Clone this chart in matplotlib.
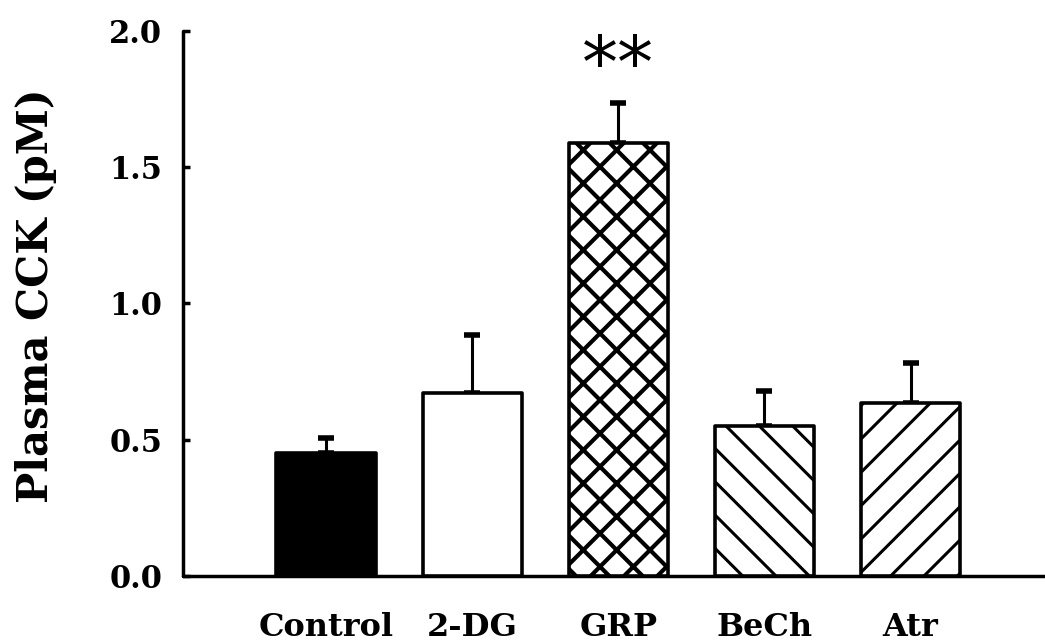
import matplotlib
matplotlib.use("Agg")
import matplotlib.pyplot as plt
import numpy as np

# group names, mean plasma CCK (pM) and upper SEM
groups = ['Control', '2-DG', 'GRP', 'BeCh', 'Atr']
means = [0.45, 0.67, 1.59, 0.55, 0.635]
sem = [0.055, 0.215, 0.145, 0.13, 0.145]
fills = ['black', 'white', 'white', 'white', 'white']
hatches = ['', '', 'xx', '\\\\', '//']
yticks = [0.0, 0.5, 1.0, 1.5, 2.0]
star_group = 'GRP'

plt.rcParams['font.family'] = 'DejaVu Serif'
plt.rcParams['font.weight'] = 'bold'
plt.rcParams['hatch.color'] = 'black'
plt.rcParams['hatch.linewidth'] = 1.1

DPI = 200
fig = plt.figure(figsize=(1045 / DPI, 643 / DPI), dpi=DPI)
ax = fig.add_axes([0.175, 0.104, 0.825, 0.848])

x = np.arange(len(groups))
bars = ax.bar(x, means, width=0.68, color=fills, edgecolor='black',
              linewidth=1.3, joinstyle='round', zorder=3)
for b, h in zip(bars, hatches):
    b.set_hatch(h)
# cross-hatched bar uses heavier lines
try:
    bars[groups.index(star_group)].set_hatch_linewidth(1.5)
except AttributeError:
    pass

# upper error bars only
_, caps, _ = ax.errorbar(x, means, yerr=[np.zeros(len(sem)), sem], fmt='none',
                         ecolor='black', elinewidth=1.1, capsize=3.0,
                         capthick=2.0, zorder=2)
for c in caps:
    c.set_solid_capstyle('round')

# significance marker above GRP
i = groups.index(star_group)
ax.text(x[i], means[i] + sem[i] + 0.13, '**', ha='center', va='center',
        fontsize=26, family='DejaVu Sans', fontweight='normal')

ax.set_xlim(-0.98, 4.92)
ax.set_ylim(0, 2.0)
ax.set_yticks(yticks)
ax.set_yticklabels(['%.1f' % t for t in yticks])
ax.set_xticks(x)
ax.set_xticklabels(groups)

for s in ['top', 'right']:
    ax.spines[s].set_visible(False)
for s in ['left', 'bottom']:
    ax.spines[s].set_linewidth(1.25)
    ax.spines[s].set_capstyle('round')

ax.tick_params(axis='y', direction='in', length=2.4, width=1.25,
               labelsize=11, pad=7.5)
ax.tick_params(axis='x', length=0, labelsize=11.5, pad=13)

ax.set_ylabel('Plasma CCK (pM)', fontsize=15, fontweight='bold')
ax.yaxis.set_label_coords(-0.146, 0.515)

fig.savefig('out.png', dpi=DPI)
